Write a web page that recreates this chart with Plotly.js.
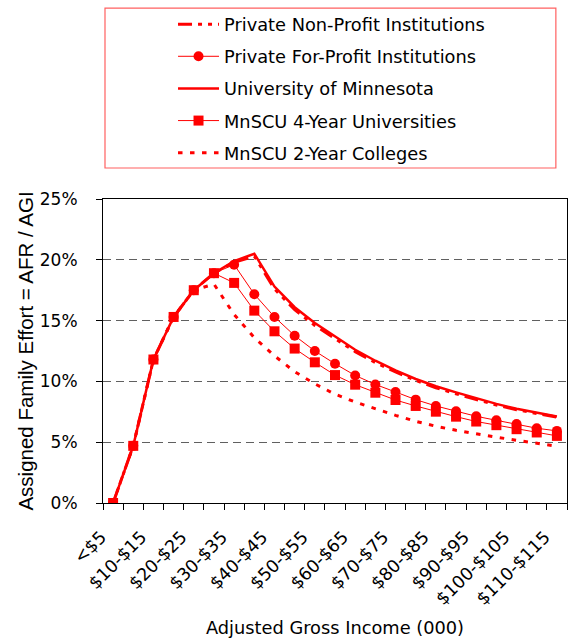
<!DOCTYPE html>
<html>
<head>
<meta charset="utf-8">
<script src="https://cdn.plot.ly/plotly-3.0.1.min.js"></script>
<style>
  html, body { margin: 0; padding: 0; background: #fff; overflow: hidden; }
  #chart { width: 570px; height: 638px; }
</style>
</head>
<body>
<div id="chart"></div>
<script>
// Categories (AGI brackets, thousands)
const categories = ['<$5','$5-$10','$10-$15','$15-$20','$20-$25','$25-$30','$30-$35','$35-$40','$40-$45','$45-$50','$50-$55','$55-$60','$60-$65','$65-$70','$70-$75','$75-$80','$80-$85','$85-$90','$90-$95','$95-$100','$100-$105','$105-$110','$110-$115'];

// Assigned family effort (AFR / AGI), percent
const privateNonProfit = [0,4.7,11.8,15.3,17.5,18.9,19.8,20.3,17.6,15.9,14.6,13.5,12.45,11.55,10.78,10.08,9.48,8.98,8.5,8.06,7.67,7.35,7.06];
const privateForProfit = [0,4.7,11.8,15.3,17.5,18.9,19.6,17.17,15.3,13.76,12.5,11.45,10.49,9.75,9.13,8.5,7.98,7.54,7.13,6.8,6.5,6.15,5.93];
const univMinnesota    = [0,4.7,11.8,15.3,17.5,18.9,19.9,20.5,17.8,16.1,14.8,13.7,12.6,11.7,10.9,10.2,9.6,9.1,8.6,8.15,7.75,7.42,7.12];
const mnscu4Year       = [0,4.7,11.8,15.3,17.5,18.9,18.1,15.82,14.12,12.7,11.57,10.52,9.73,9.07,8.47,7.98,7.51,7.1,6.7,6.4,6.07,5.8,5.52];
const mnscu2Year       = [0,4.7,11.8,15.3,17.5,18.0,15.5,13.6,12.1,10.8,9.8,8.95,8.3,7.73,7.21,6.72,6.31,5.98,5.68,5.41,5.16,4.92,4.67];

const seriesNames = ['Private Non-Profit Institutions','Private For-Profit Institutions','University of Minnesota','MnSCU 4-Year Universities','MnSCU 2-Year Colleges'];

const tickLabels = categories.map((c, i) => (i % 2 === 0 ? c : ''));

const RED = '#FF0000';
const WIDE = 'DejaVu Sans, Verdana, sans-serif';
const ARIAL = 'Liberation Sans, Arial, sans-serif';
const pct = a => a.map(v => v / 100);

const traces = [
  { x: categories, y: pct(privateNonProfit), name: seriesNames[0], mode: 'lines',
    line: { color: RED, width: 3, dash: '14px,6px,4px,6px,4px,6px' }, legendgroup: 'a' },
  { x: categories, y: pct(privateForProfit), name: seriesNames[1], mode: 'lines+markers',
    line: { color: RED, width: 1 }, marker: { symbol: 'circle', size: 10, color: RED }, legendgroup: 'b' },
  { x: categories, y: pct(univMinnesota), name: seriesNames[2], mode: 'lines',
    line: { color: RED, width: 2.5 }, legendgroup: 'c' },
  { x: categories, y: pct(mnscu4Year), name: seriesNames[3], mode: 'lines+markers',
    line: { color: RED, width: 1 }, marker: { symbol: 'square', size: 10, color: RED }, legendgroup: 'd' },
  { x: categories, y: pct(mnscu2Year), name: seriesNames[4], mode: 'lines',
    line: { color: RED, width: 3, dash: '4.5px,7.5px' }, legendgroup: 'e' }
];

const layout = {
  width: 570, height: 638,
  margin: { l: 103, r: 3, t: 199, b: 135 },
  paper_bgcolor: '#fff', plot_bgcolor: '#fff',
  font: { family: WIDE, size: 17, color: '#000' },
  showlegend: true,
  legend: {
    x: 0.1509, y: 1.6346, xanchor: 'left', yanchor: 'top',
    bgcolor: 'rgba(0,0,0,0)', borderwidth: 0,
    font: { family: WIDE, size: 17.8, color: '#000' },
    tracegroupgap: 6, itemwidth: 41
  },
  xaxis: {
    type: 'category',
    tickmode: 'array', tickvals: categories, ticktext: tickLabels,
    tickson: 'boundaries', ticks: 'outside', ticklen: 6, tickcolor: '#000',
    tickangle: -45, tickfont: { family: WIDE, size: 17.5 },
    ticklabelshift: -12, ticklabelstandoff: 16,
    showline: true, linecolor: '#000', linewidth: 1, mirror: true,
    showgrid: false, zeroline: false,
    range: [-0.5, categories.length - 0.5],
    title: { text: 'Adjusted Gross Income (000)', font: { family: WIDE, size: 17.8 }, standoff: 28 }
  },
  yaxis: {
    range: [0, 0.25], dtick: 0.05, tickformat: '.0%',
    ticks: 'outside', ticklen: 6, tickcolor: '#000', ticklabelstandoff: 15,
    tickfont: { family: WIDE, size: 17 },
    showline: true, linecolor: '#000', linewidth: 1, mirror: true,
    showgrid: true, gridcolor: '#606060', gridwidth: 1.3, griddash: '8px,5px',
    zeroline: false,
    title: { text: 'Assigned Family Effort = AFR / AGI', font: { family: ARIAL, size: 20.5 }, standoff: 0 }
  },
  shapes: [
    { type: 'rect', xref: 'paper', yref: 'paper', x0: 0.0043, x1: 0.976, y0: 1.102, y1: 1.628,
      line: { color: '#FF6060', width: 1.2 }, fillcolor: 'rgba(0,0,0,0)' }
  ]
};

Plotly.newPlot('chart', traces, layout, { staticPlot: true, displayModeBar: false });
</script>
</body>
</html>
